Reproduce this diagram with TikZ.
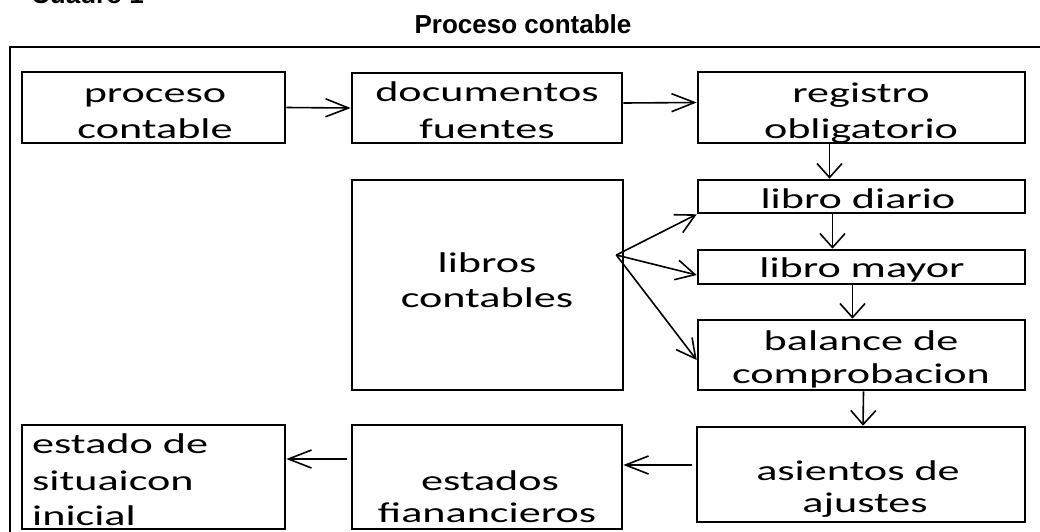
\documentclass[tikz,border=0pt]{standalone}
\usepackage{fontspec}
\usetikzlibrary{arrows.meta,calc}
\newfontfamily\boxfont{Carlito}[FakeStretch=1.55]
\newfontfamily\capfont{Liberation Sans}
\begin{document}
\begin{tikzpicture}[x=1pt,y=-1pt,
  box/.style={draw, line width=2.6pt, inner sep=0pt},
  txt/.style={font=\boxfont\fontsize{28.5}{34}\selectfont, anchor=base, inner sep=0pt},
  txtl/.style={txt, anchor=base west},
  captext/.style={font=\capfont\bfseries\fontsize{26}{30}\selectfont, inner sep=0pt},
  conn/.style={line width=1.6pt},
  harr/.style={conn, -{Straight Barb[length=23pt,width=18pt]}},
  varr/.style={conn, -{Straight Barb[length=14pt,width=25pt]}},
  darr/.style={conn, -{Straight Barb[length=19pt,width=20pt]}}]
\useasboundingbox (0,0) rectangle (1040,531);
\clip (0,0) rectangle (1040,531);

% captions
\node[captext, anchor=base west] (cuadro) at (31,3) {Cuadro 1};
\node[captext, anchor=base] (title) at (523,33) {Proceso contable};

% outer frame
\draw[line width=2.6pt] (10,47) rectangle (1065,570);

% boxes
\node[box, minimum width=263pt, minimum height=71pt] (A) at (153.5,107.5) {};
\node[box, minimum width=270pt, minimum height=70pt] (B) at (487,108) {};
\node[box, minimum width=327pt, minimum height=71pt] (C) at (861.5,107.5) {};
\node[box, minimum width=327pt, minimum height=33pt] (D) at (861.5,196.5) {};
\node[box, minimum width=327pt, minimum height=34pt] (E) at (861.5,267) {};
\node[box, minimum width=327pt, minimum height=70pt] (F) at (861.5,355) {};
\node[box, minimum width=271pt, minimum height=210pt] (G) at (487.5,285) {};
\node[box, minimum width=328pt, minimum height=95pt] (H) at (861,474.5) {};
\node[box, minimum width=270pt, minimum height=104pt] (I) at (487,477) {};
\node[box, minimum width=263pt, minimum height=104pt] (J) at (153.5,477) {};

% texts
\node[txt] (A1) at (155,102) {proceso};
\node[txt] (A2) at (155,138) {contable};
\node[txt] (B1) at (487,101) {documentos};
\node[txt] (B2) at (487,138) {fuentes};
\node[txt] (C1) at (861,102) {registro};
\node[txt] (C2) at (861,138) {obligatorio};
\node[txt] (D1) at (858,208) {libro diario};
\node[txt] (E1) at (862,277) {libro mayor};
\node[txt] (F1) at (861,350) {balance de};
\node[txt] (F2) at (861,383) {comprobacion};
\node[txt] (G1) at (487,272) {libros};
\node[txt] (G2) at (487,307) {contables};
\node[txt] (H1) at (858,480) {asientos de};
\node[txt] (H2) at (865,512) {ajustes};
\node[txt] (I1) at (490,490) {estados};
\node[txt] (I2) at (487,522) {fianancieros};
\node[txtl] (J1) at (32,453) {estado de};
\node[txtl] (J2) at (32,490) {situaicon};
\node[txtl] (J3) at (32,525) {inicial};

% connectors
\draw[harr] (A.east) -- (B.west);
\draw[harr] ($(B.east)+(0,-5)$) -- ($(C.west)+(0,-5)$);
\draw[varr] ($(C.south)+(-32,0)$) -- ($(D.north)+(-32,0)$);
\draw[varr] ($(D.south)+(-29,0)$) -- ($(E.north)+(-29,0)$);
\draw[varr] ($(E.south)+(-9,0)$) -- ($(F.north)+(-9,0)$);
\draw[varr] ($(F.south)+(2,0)$) -- ($(H.north)+(2,0)$);
\coordinate (Gs) at ($(G.east)+(-8,-30)$);
\draw[darr] (Gs) -- (D.south west);
\draw[darr] (Gs) -- ($(E.west)+(0,8)$);
\draw[darr] (Gs) -- ($(F.west)+(0,5)$);
\draw[harr, shorten <=4pt] ($(H.west)+(0,-9.5)$) -- ($(I.east)+(0,-12)$);
\draw[harr, shorten <=4pt] ($(I.west)+(0,-18)$) -- ($(J.east)+(0,-18)$);
\end{tikzpicture}
\end{document}
